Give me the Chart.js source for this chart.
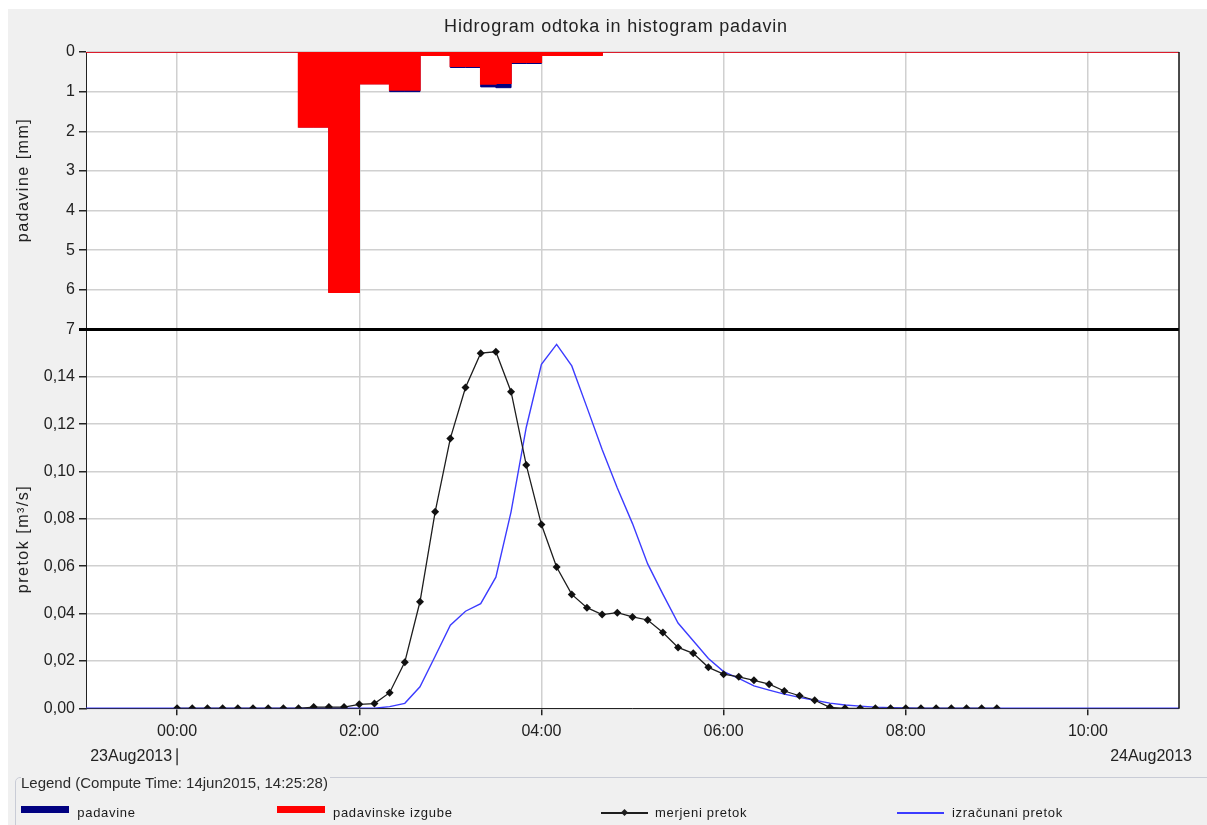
<!DOCTYPE html>
<html>
<head>
<meta charset="utf-8">
<script src="https://cdn.jsdelivr.net/npm/chart.js@4.4.1/dist/chart.umd.min.js"></script>
<style>
  body { margin: 0; background: #fff; font-family: 'Liberation Sans', Arial, sans-serif; }
  #wrap { position: absolute; left: 8px; top: 9px; width: 1199px; height: 816px; background: #f0f0f0; overflow: hidden; }
  #holder { position: absolute; left: 0; top: 0; width: 1199px; height: 770px; }
  .lg-box { position: absolute; left: 7px; top: 768px; width: 1250px; height: 100px; border: 1px solid #c9ccd6; border-radius: 5px; }
  .lg-title { position: absolute; left: 13px; top: 765px; font-size: 15px; line-height: 18px; color: #2b2b2b; background: #f0f0f0; padding-right: 2px; }
  .lg-item { position: absolute; top: 794px; height: 20px; }
  .lg-text { position: absolute; top: 0; font-size: 13px; letter-spacing: 0.7px; line-height: 20px; color: #1a1a1a; white-space: nowrap; }
  .sw { position: absolute; }
</style>
</head>
<body>
<div id="wrap">
  <div id="holder"><canvas id="hydro"></canvas></div>
  <div class="lg-box"></div>
  <span class="lg-title">Legend (Compute Time: 14jun2015, 14:25:28)</span>
  <div id="legend"></div>
</div>
<script>
// time in minutes from 00:00 on 23Aug2013
const chartTitle = 'Hidrogram odtoka in histogram padavin';
const dateLabels = ['23Aug2013', '24Aug2013'];
const axisTitles = ['padavine [mm]', 'pretok [m³/s]'];
const seriesNames = ['padavine', 'padavinske izgube', 'merjeni pretok', 'izračunani pretok'];
const xTicks = [0, 120, 240, 360, 480, 600];

// precipitation, 10 minute blocks (start minute)
const rainStart = [80, 90, 100, 110, 120, 130, 140, 150, 160, 170, 180, 190, 200, 210, 220, 230, 240, 250, 260, 270];
const rainTotal = [1.89, 1.89, 6.06, 6.06, 0.80, 0.80, 1.00, 1.00, 0.08, 0.08, 0.39, 0.39, 0.88, 0.90, 0.29, 0.29, 0.08, 0.08, 0.08, 0.08];
const rainLoss  = [1.89, 1.89, 6.06, 6.06, 0.80, 0.80, 0.96, 0.96, 0.08, 0.08, 0.36, 0.36, 0.81, 0.79, 0.26, 0.26, 0.08, 0.08, 0.08, 0.08];

// measured discharge [m3/s]
const measTime = [0, 10, 20, 30, 40, 50, 60, 70, 80, 90, 100, 110, 120, 130, 140, 150, 160, 170, 180, 190,
  200, 210, 220, 230, 240, 250, 260, 270, 280, 290, 300, 310, 320, 330, 340, 350, 360, 370, 380, 390,
  400, 410, 420, 430, 440, 450, 460, 470, 480, 490, 500, 510, 520, 530, 540];
const measFlow = [0, 0, 0, 0, 0, 0, 0, 0, 0, 0.0005, 0.0005, 0.0005, 0.0017, 0.002, 0.0066, 0.0195, 0.045, 0.083, 0.114, 0.1355,
  0.150, 0.1506, 0.1337, 0.1028, 0.0776, 0.0597, 0.0481, 0.0425, 0.0396, 0.0404, 0.0386, 0.0373, 0.032, 0.0257, 0.0232, 0.0173, 0.0144, 0.0133, 0.0118, 0.0102,
  0.0073, 0.0053, 0.0034, 0.0004, 0, 0, 0, 0, 0, 0, 0, 0, 0, 0, 0];

// computed discharge [m3/s]
const calcTime = [-60, 130, 140, 150, 160, 170, 180, 190, 200, 210, 220, 230, 240, 250, 260, 270, 280, 290, 300, 310,
  320, 330, 340, 350, 360, 370, 380, 390, 400, 410, 420, 430, 440, 450, 460, 470, 480, 490, 660];
const calcFlow = [0, 0, 0.0007, 0.0021, 0.0091, 0.022, 0.0351, 0.041, 0.0442, 0.0554, 0.083, 0.1186, 0.1453, 0.1537, 0.1446, 0.1271, 0.1093, 0.093, 0.078, 0.061,
  0.0482, 0.036, 0.0285, 0.021, 0.0155, 0.0126, 0.0095, 0.0077, 0.006, 0.0046, 0.0034, 0.0022, 0.0014, 0.0009, 0.0005, 0.0003, 0.0002, 0, 0];

const xMin = -60, xMax = 660;

function rainSteps(vals) {
  const pts = [{x: xMin, y: 0}];
  rainStart.forEach((t, i) => pts.push({x: t, y: vals[i]}));
  pts.push({x: rainStart[rainStart.length - 1] + 10, y: 0});
  pts.push({x: xMax, y: 0});
  return pts;
}
const pairs = (xs, ys) => xs.map((x, i) => ({x: x, y: ys[i]}));

function hhmm(m) {
  const h = Math.floor(m / 60), mm = m % 60;
  return String(h).padStart(2, '0') + ':' + String(mm).padStart(2, '0');
}

const FONT = "'Liberation Sans', Arial, sans-serif";
const gridCol = '#d0d0d0';

// white plot background
const plotBg = {
  id: 'plotBg',
  beforeDraw(chart) {
    const {ctx, chartArea: a} = chart;
    ctx.save();
    ctx.fillStyle = '#fff';
    ctx.fillRect(a.left, a.top, a.right - a.left, a.bottom - a.top);
    ctx.restore();
  }
};

// title, axis titles, divider between panels, right frame and date labels
const frame = {
  id: 'frame',
  afterDatasetsDraw(chart) {
    const {ctx, chartArea: a, scales} = chart;
    const yDiv = scales.yFlow.top;
    ctx.save();
    ctx.strokeStyle = '#000';
    ctx.lineWidth = 3;
    ctx.beginPath(); ctx.moveTo(a.left - 7, yDiv); ctx.lineTo(a.right, yDiv); ctx.stroke();
    ctx.lineWidth = 1.5;
    ctx.strokeStyle = '#111';
    ctx.beginPath(); ctx.moveTo(a.right, a.top); ctx.lineTo(a.right, a.bottom); ctx.stroke();

    ctx.fillStyle = '#222';
    ctx.textBaseline = 'middle';

    ctx.font = '18px ' + FONT;
    ctx.textAlign = 'center';
    ctx.letterSpacing = '0.8px';
    ctx.fillText(chartTitle, 608, 18);

    ctx.font = '16px ' + FONT;
    ctx.letterSpacing = '1.5px';
    [[axisTitles[0], 171], [axisTitles[1], 530]].forEach(([t, y]) => {
      ctx.save();
      ctx.translate(16, y);
      ctx.rotate(-Math.PI / 2);
      ctx.fillText(t, 0, 0);
      ctx.restore();
    });

    ctx.letterSpacing = '0px';
    const x0 = scales.x.getPixelForValue(0);
    ctx.textAlign = 'right';
    ctx.fillText(dateLabels[0], x0 - 5, a.bottom + 48.7);
    ctx.fillText(dateLabels[1], chart.width - 15, a.bottom + 48.7);
    ctx.lineWidth = 1.3;
    ctx.strokeStyle = '#222';
    ctx.beginPath(); ctx.moveTo(x0, a.bottom + 40); ctx.lineTo(x0, a.bottom + 57); ctx.stroke();
    ctx.restore();
  }
};

const chart = new Chart(document.getElementById('hydro'), {
  type: 'line',
  data: {
    datasets: [
      {
        label: seriesNames[0], data: rainSteps(rainTotal), yAxisID: 'yRain',
        stepped: true, fill: 'origin', borderColor: '#000080', backgroundColor: '#000080',
        borderWidth: 1, pointRadius: 0, order: 2
      },
      {
        label: seriesNames[1], data: rainSteps(rainLoss), yAxisID: 'yRain',
        stepped: true, fill: 'origin', borderColor: '#ff0000', backgroundColor: '#ff0000',
        borderWidth: 1.5, pointRadius: 0, order: 1
      },
      {
        label: seriesNames[2], data: pairs(measTime, measFlow), yAxisID: 'yFlow',
        borderColor: '#1e1e1e', borderWidth: 1.3, pointStyle: 'rectRot', pointRadius: 4,
        pointBackgroundColor: '#111', pointBorderWidth: 0, order: 0
      },
      {
        label: seriesNames[3], data: pairs(calcTime, calcFlow), yAxisID: 'yFlow',
        borderColor: '#3c3cff', borderWidth: 1.4, pointRadius: 0, order: 0
      }
    ]
  },
  options: {
    responsive: true,
    maintainAspectRatio: false,
    animation: false,
    layout: { padding: { left: 0, right: 28, top: 43, bottom: 0 } },
    plugins: {
      legend: { display: false },
      tooltip: { enabled: false },
      title: { display: false }
    },
    scales: {
      x: {
        type: 'linear', min: xMin, max: xMax,
        afterBuildTicks: s => { s.ticks = xTicks.map(v => ({ value: v })); },
        ticks: {
          autoSkip: false, maxRotation: 0,
          padding: 7, color: '#222', font: { family: FONT, size: 16 },
          callback: v => hhmm(v)
        },
        grid: { color: gridCol, lineWidth: 1.5, tickColor: '#222', tickLength: 7 },
        border: { color: '#222', width: 1 },
        afterFit: s => { s.height = 70.7; }
      },
      yFlow: {
        type: 'linear', position: 'left', stack: 'panels', stackWeight: 379,
        min: 0, max: 0.16,
        ticks: {
          stepSize: 0.02, autoSkip: false, padding: 4, color: '#222', font: { family: FONT, size: 16 },
          callback: v => v > 0.159 ? '' : v.toFixed(2).replace('.', ',')
        },
        grid: { color: gridCol, lineWidth: 1.5, tickColor: '#222', tickLength: 7 },
        border: { color: '#222', width: 1 },
        afterFit: s => { s.width = 78; }
      },
      yRain: {
        type: 'linear', position: 'left', stack: 'panels', stackWeight: 277.6,
        min: 0, max: 7, reverse: true,
        ticks: {
          stepSize: 1, autoSkip: false, padding: 4, color: '#222', font: { family: FONT, size: 16 },
          callback: v => String(v)
        },
        grid: { color: gridCol, lineWidth: 1.5, tickColor: '#222', tickLength: 7 },
        border: { color: '#222', width: 1 },
        afterFit: s => { s.width = 78; }
      }
    }
  },
  plugins: [plotBg, frame]
});

// legend row below the chart
const legendPos = [
  { sw: 12.7, text: 69.3, kind: 'bar', color: '#000080' },
  { sw: 269, text: 325, kind: 'bar', color: '#ff0000' },
  { sw: 593, text: 647, kind: 'marker', color: '#1e1e1e' },
  { sw: 889, text: 944, kind: 'line', color: '#3c3cff' }
];
const legend = document.getElementById('legend');
chart.data.datasets.forEach((ds, i) => {
  const p = legendPos[i];
  const item = document.createElement('div');
  item.className = 'lg-item';
  item.style.left = '0px';
  let html = '';
  if (p.kind === 'bar') {
    html += `<div class="sw" style="left:${p.sw}px;top:3px;width:48px;height:7px;background:${p.color}"></div>`;
  } else {
    html += `<div class="sw" style="left:${p.sw}px;top:9px;width:47px;height:1.5px;background:${p.color}"></div>`;
    if (p.kind === 'marker') {
      html += `<div class="sw" style="left:${p.sw + 20.5}px;top:6.5px;width:5px;height:5px;background:${p.color};transform:rotate(45deg)"></div>`;
    }
  }
  html += `<span class="lg-text" style="left:${p.text}px">${ds.label}</span>`;
  item.innerHTML = html;
  legend.appendChild(item);
});
</script>
</body>
</html>
